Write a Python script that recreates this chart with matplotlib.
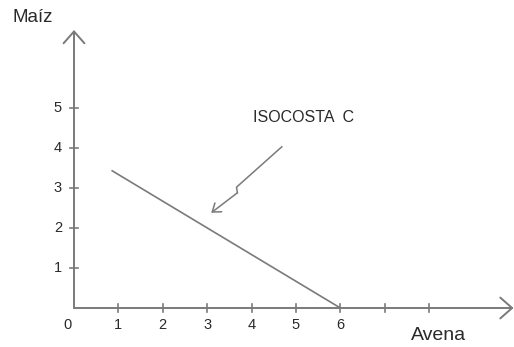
import matplotlib.pyplot as plt

# axis ticks and labels
x_ticks = [1, 2, 3, 4, 5, 6, 7, 8]
x_labels = ['1', '2', '3', '4', '5', '6', '', '']
y_ticks = [1, 2, 3, 4, 5]
y_labels = ['1', '2', '3', '4', '5']

# isocost line (Avena, Maiz)
iso_x = [0.86, 6.0]
iso_y = [3.43, 0.0]

# pointer from the label to the line, with a zigzag
ptr_x = [4.68, 3.66, 3.68, 3.09]
ptr_y = [4.03, 3.02, 2.88, 2.38]

x_end = 9.9
y_end = 6.95

line_col = '#7a7a7a'
text_col = '#2a2a2a'
font = ['Liberation Sans', 'DejaVu Sans']

fig = plt.figure(figsize=(5.14, 3.47), dpi=100)
ax = fig.add_axes([0, 0, 1, 1])
ax.set_xlim(-74 / 44.4, 440 / 44.4)
ax.set_ylim(-39 / 40, 308 / 40)
ax.axis('off')

# axes with open arrow heads
arrow = dict(arrowstyle='->, head_length=0.85, head_width=0.75', color=line_col,
             lw=1.4, shrinkA=0, shrinkB=0)
ax.annotate('', xy=(x_end, 0), xytext=(0, 0), arrowprops=arrow)
ax.annotate('', xy=(0, y_end), xytext=(0, 0), arrowprops=arrow)

# tick marks crossing the axes
tx = 0.09
ty = 0.1
for t in x_ticks:
    ax.plot([t, t], [-ty, ty], color=line_col, lw=1.2)
for t in y_ticks:
    ax.plot([-tx, tx], [t, t], color=line_col, lw=1.2)

for t, lab in zip(x_ticks, x_labels):
    ax.text(t, -0.43, lab, ha='center', va='center', fontsize=10.5,
            color=text_col, family=font)
for t, lab in zip(y_ticks, y_labels):
    ax.text(-0.27, t, lab, ha='right', va='center', fontsize=10.5,
            color=text_col, family=font)
ax.text(-0.15, -0.43, '0', ha='center', va='center', fontsize=10.5,
        color=text_col, family=font)

# isocost line
ax.plot(iso_x, iso_y, color=line_col, lw=1.2)

# zigzag pointer
ax.plot(ptr_x[:3], ptr_y[:3], color=line_col, lw=1.1)
ax.annotate('', xy=(ptr_x[3], ptr_y[3]), xytext=(ptr_x[2], ptr_y[2]),
            arrowprops=dict(arrowstyle='->, head_length=0.55, head_width=0.4',
                            color=line_col, lw=1.1, shrinkA=0, shrinkB=0))

ax.text(4.03, 4.75, 'ISOCOSTA  C', ha='left', va='center', fontsize=11.5,
        color=text_col, family=font)
ax.text(-1.39, 7.25, 'Maíz', ha='left', va='center', fontsize=13.5,
        color=text_col, family=font)
ax.text(7.6, -0.7, 'Avena', ha='left', va='center', fontsize=14,
        color=text_col, family=font)

plt.savefig('out.png', dpi=100)
plt.close()
